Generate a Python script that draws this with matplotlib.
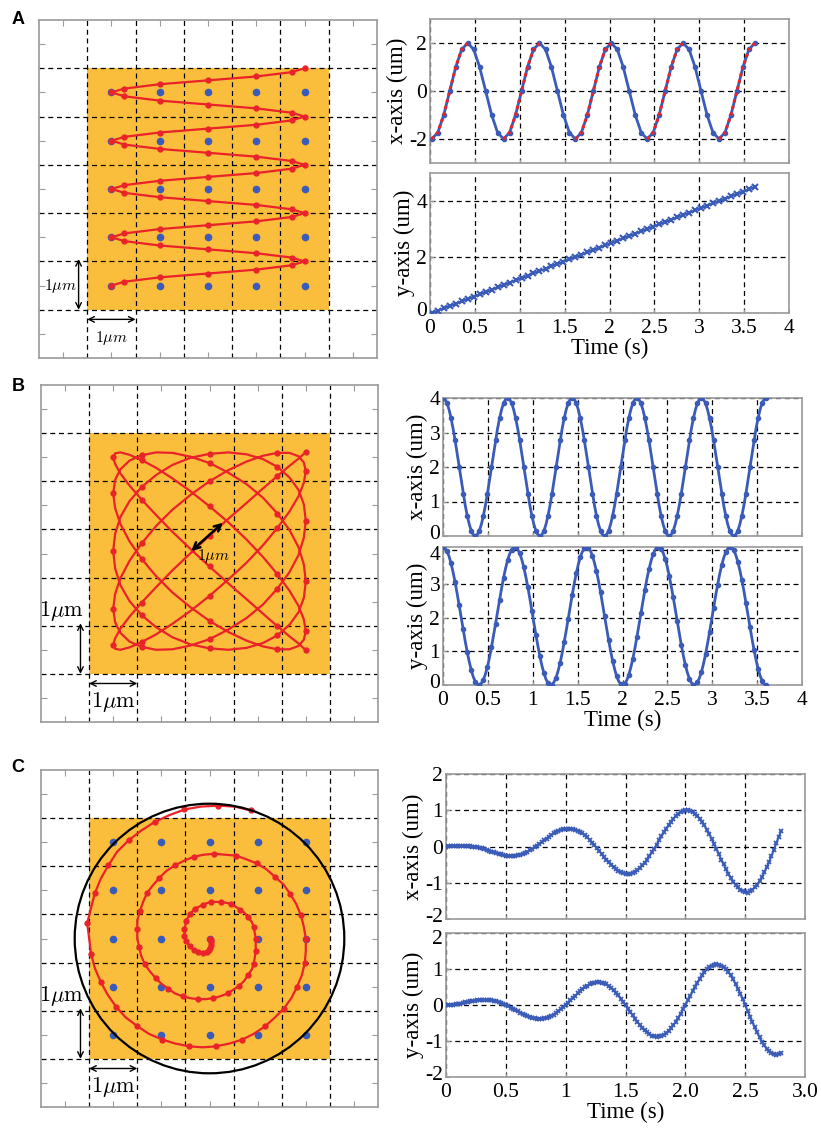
import numpy as np
import matplotlib.pyplot as plt
from matplotlib.patches import Rectangle, Circle
from matplotlib.transforms import ScaledTranslation

plt.rcParams['font.family'] = 'Liberation Serif'
plt.rcParams['mathtext.fontset'] = 'cm'

# ---------------- data ----------------
# A: raster scan (time in s, positions in um)
t_a = [0.020, 0.087, 0.153, 0.220, 0.287, 0.353, 0.420, 0.487, 0.553, 0.620,
       0.687, 0.753, 0.820, 0.887, 0.953, 1.020, 1.087, 1.153, 1.220, 1.287,
       1.353, 1.420, 1.487, 1.553, 1.620, 1.687, 1.753, 1.820, 1.887, 1.953,
       2.020, 2.087, 2.153, 2.220, 2.287, 2.353, 2.420, 2.487, 2.553, 2.620,
       2.687, 2.753, 2.820, 2.887, 2.953, 3.020, 3.087, 3.153, 3.220, 3.287,
       3.353, 3.420, 3.487, 3.553, 3.620]
x_a = [-2.0, -1.73, -1.0, 0.0, 1.0, 1.73, 2.0, 1.73, 1.0, 0.0, -1.0, -1.73,
       -2.0, -1.73, -1.0, 0.0, 1.0, 1.73, 2.0, 1.73, 1.0, 0.0, -1.0, -1.73,
       -2.0, -1.73, -1.0, 0.0, 1.0, 1.73, 2.0, 1.73, 1.0, 0.0, -1.0, -1.73,
       -2.0, -1.73, -1.0, 0.0, 1.0, 1.73, 2.0, 1.73, 1.0, 0.0, -1.0, -1.73,
       -2.0, -1.73, -1.0, 0.0, 1.0, 1.73, 2.0]
y_a = [0.00, 0.08, 0.17, 0.25, 0.33, 0.42, 0.50, 0.58, 0.67, 0.75, 0.83, 0.92,
       1.00, 1.08, 1.17, 1.25, 1.33, 1.42, 1.50, 1.58, 1.67, 1.75, 1.83, 1.92,
       2.00, 2.08, 2.17, 2.25, 2.33, 2.42, 2.50, 2.58, 2.67, 2.75, 2.83, 2.92,
       3.00, 3.08, 3.17, 3.25, 3.33, 3.42, 3.50, 3.58, 3.67, 3.75, 3.83, 3.92,
       4.00, 4.08, 4.17, 4.25, 4.33, 4.42, 4.50]

# B: Lissajous scan
t_b = [0.0000, 0.0225, 0.0450, 0.0675, 0.0900, 0.1125, 0.1350, 0.1575, 0.1800,
       0.2025, 0.2250, 0.2475, 0.2700, 0.2925, 0.3150, 0.3375, 0.3600, 0.3825,
       0.4050, 0.4275, 0.4500, 0.4725, 0.4950, 0.5175, 0.5400, 0.5625, 0.5850,
       0.6075, 0.6300, 0.6525, 0.6750, 0.6975, 0.7200, 0.7425, 0.7650, 0.7875,
       0.8100, 0.8325, 0.8550, 0.8775, 0.9000, 0.9225, 0.9450, 0.9675, 0.9900,
       1.0125, 1.0350, 1.0575, 1.0800, 1.1025, 1.1250, 1.1475, 1.1700, 1.1925,
       1.2150, 1.2375, 1.2600, 1.2825, 1.3050, 1.3275, 1.3500, 1.3725, 1.3950,
       1.4175, 1.4400, 1.4625, 1.4850, 1.5075, 1.5300, 1.5525, 1.5750, 1.5975,
       1.6200, 1.6425, 1.6650, 1.6875, 1.7100, 1.7325, 1.7550, 1.7775, 1.8000,
       1.8225, 1.8450, 1.8675, 1.8900, 1.9125, 1.9350, 1.9575, 1.9800, 2.0025,
       2.0250, 2.0475, 2.0700, 2.0925, 2.1150, 2.1375, 2.1600, 2.1825, 2.2050,
       2.2275, 2.2500, 2.2725, 2.2950, 2.3175, 2.3400, 2.3625, 2.3850, 2.4075,
       2.4300, 2.4525, 2.4750, 2.4975, 2.5200, 2.5425, 2.5650, 2.5875, 2.6100,
       2.6325, 2.6550, 2.6775, 2.7000, 2.7225, 2.7450, 2.7675, 2.7900, 2.8125,
       2.8350, 2.8575, 2.8800, 2.9025, 2.9250, 2.9475, 2.9700, 2.9925, 3.0150,
       3.0375, 3.0600, 3.0825, 3.1050, 3.1275, 3.1500, 3.1725, 3.1950, 3.2175,
       3.2400, 3.2625, 3.2850, 3.3075, 3.3300, 3.3525, 3.3750, 3.3975, 3.4200,
       3.4425, 3.4650, 3.4875, 3.5100, 3.5325, 3.5550, 3.5775, 3.6000]
x_b = [4.00, 3.96, 3.85, 3.66, 3.41, 3.11, 2.77, 2.39, 2.00, 1.61, 1.23, 0.89,
       0.59, 0.34, 0.15, 0.04, 0.00, 0.04, 0.15, 0.34, 0.59, 0.89, 1.23, 1.61,
       2.00, 2.39, 2.77, 3.11, 3.41, 3.66, 3.85, 3.96,
       4.00, 3.96, 3.85, 3.66, 3.41, 3.11, 2.77, 2.39, 2.00, 1.61, 1.23, 0.89,
       0.59, 0.34, 0.15, 0.04, 0.00, 0.04, 0.15, 0.34, 0.59, 0.89, 1.23, 1.61,
       2.00, 2.39, 2.77, 3.11, 3.41, 3.66, 3.85, 3.96,
       4.00, 3.96, 3.85, 3.66, 3.41, 3.11, 2.77, 2.39, 2.00, 1.61, 1.23, 0.89,
       0.59, 0.34, 0.15, 0.04, 0.00, 0.04, 0.15, 0.34, 0.59, 0.89, 1.23, 1.61,
       2.00, 2.39, 2.77, 3.11, 3.41, 3.66, 3.85, 3.96,
       4.00, 3.96, 3.85, 3.66, 3.41, 3.11, 2.77, 2.39, 2.00, 1.61, 1.23, 0.89,
       0.59, 0.34, 0.15, 0.04, 0.00, 0.04, 0.15, 0.34, 0.59, 0.89, 1.23, 1.61,
       2.00, 2.39, 2.77, 3.11, 3.41, 3.66, 3.85, 3.96,
       4.00, 3.96, 3.85, 3.66, 3.41, 3.11, 2.77, 2.39, 2.00, 1.61, 1.23, 0.89,
       0.59, 0.34, 0.15, 0.04, 0.00, 0.04, 0.15, 0.34, 0.59, 0.89, 1.23, 1.61,
       2.00, 2.39, 2.77, 3.11, 3.41, 3.66, 3.85, 3.96,
       4.00]
y_b = [4.10, 4.07, 3.97, 3.82, 3.61, 3.35, 3.05, 2.72, 2.37, 2.01, 1.65, 1.30,
       0.98, 0.69, 0.44, 0.24, 0.10, 0.02, 0.00, 0.05, 0.16, 0.32, 0.54, 0.81,
       1.12, 1.46, 1.81, 2.17, 2.53, 2.87, 3.19, 3.47, 3.71, 3.89, 4.02, 4.09,
       4.09, 4.03, 3.91, 3.73, 3.50, 3.22, 2.91, 2.57, 2.21, 1.85, 1.49, 1.16,
       0.85, 0.57, 0.35, 0.17, 0.06, 0.00, 0.01, 0.09, 0.22, 0.42, 0.66, 0.94,
       1.27, 1.61, 1.97, 2.33, 2.68, 3.02, 3.32, 3.58, 3.80, 3.96, 4.06, 4.10,
       4.07, 3.99, 3.84, 3.63, 3.38, 3.09, 2.76, 2.41, 2.05, 1.69, 1.34, 1.01,
       0.72, 0.47, 0.26, 0.11, 0.03, 0.00, 0.04, 0.14, 0.30, 0.52, 0.78, 1.08,
       1.42, 1.77, 2.13, 2.49, 2.83, 3.16, 3.44, 3.68, 3.88, 4.01, 4.09, 4.10,
       4.04, 3.93, 3.75, 3.53, 3.25, 2.94, 2.61, 2.25, 1.89, 1.53, 1.19, 0.88,
       0.60, 0.37, 0.19, 0.07, 0.01, 0.01, 0.08, 0.21, 0.39, 0.63, 0.91, 1.23,
       1.57, 1.93, 2.29, 2.65, 2.98, 3.29, 3.56, 3.78, 3.94, 4.05, 4.10, 4.08,
       4.00, 3.86, 3.66, 3.41, 3.12, 2.80, 2.45, 2.09, 1.73, 1.38, 1.05, 0.75,
       0.49, 0.28, 0.13, 0.03, 0.00]

# C: spiral scan
t_c = [0.00, 0.02, 0.04, 0.06, 0.08, 0.10, 0.12, 0.14, 0.16, 0.18, 0.20, 0.22,
       0.24, 0.26, 0.28, 0.30, 0.32, 0.34, 0.36, 0.38, 0.40, 0.42, 0.44, 0.46,
       0.48, 0.50, 0.52, 0.54, 0.56, 0.58, 0.60, 0.62, 0.64, 0.66, 0.68, 0.70,
       0.72, 0.74, 0.76, 0.78, 0.80, 0.82, 0.84, 0.86, 0.88, 0.90, 0.92, 0.94,
       0.96, 0.98, 1.00, 1.02, 1.04, 1.06, 1.08, 1.10, 1.12, 1.14, 1.16, 1.18,
       1.20, 1.22, 1.24, 1.26, 1.28, 1.30, 1.32, 1.34, 1.36, 1.38, 1.40, 1.42,
       1.44, 1.46, 1.48, 1.50, 1.52, 1.54, 1.56, 1.58, 1.60, 1.62, 1.64, 1.66,
       1.68, 1.70, 1.72, 1.74, 1.76, 1.78, 1.80, 1.82, 1.84, 1.86, 1.88, 1.90,
       1.92, 1.94, 1.96, 1.98, 2.00, 2.02, 2.04, 2.06, 2.08, 2.10, 2.12, 2.14,
       2.16, 2.18, 2.20, 2.22, 2.24, 2.26, 2.28, 2.30, 2.32, 2.34, 2.36, 2.38,
       2.40, 2.42, 2.44, 2.46, 2.48, 2.50, 2.52, 2.54, 2.56, 2.58, 2.60, 2.62,
       2.64, 2.66, 2.68, 2.70, 2.72, 2.74, 2.76, 2.78, 2.80]
x_c = [0.00, 0.01, 0.01, 0.02, 0.02, 0.02, 0.02, 0.02, 0.02, 0.02, 0.01, 0.00,
       -0.01, -0.02, -0.03, -0.05, -0.07, -0.09, -0.12, -0.14, -0.16, -0.18,
       -0.20, -0.22, -0.24, -0.25, -0.26, -0.26, -0.26, -0.25, -0.24, -0.23,
       -0.20, -0.18, -0.15, -0.11, -0.07, -0.02, 0.02, 0.07, 0.12, 0.18, 0.22,
       0.27, 0.32, 0.36, 0.40, 0.44, 0.46, 0.47, 0.48, 0.48, 0.48, 0.47, 0.46,
       0.44, 0.40, 0.36, 0.31, 0.25, 0.19, 0.11, 0.04, -0.04, -0.12, -0.20,
       -0.28, -0.36, -0.43, -0.50, -0.56, -0.62, -0.67, -0.71, -0.73, -0.75,
       -0.75, -0.75, -0.72, -0.69, -0.65, -0.59, -0.52, -0.45, -0.36, -0.26,
       -0.16, -0.06, 0.05, 0.17, 0.28, 0.39, 0.49, 0.59, 0.68, 0.77, 0.84,
       0.90, 0.95, 0.98, 1.00, 1.00, 0.99, 0.96, 0.91, 0.85, 0.77, 0.68, 0.58,
       0.46, 0.34, 0.21, 0.07, -0.07, -0.21, -0.36, -0.49, -0.63, -0.75, -0.87,
       -0.97, -1.06, -1.13, -1.19, -1.23, -1.25, -1.27, -1.23, -1.19, -1.13,
       -1.05, -0.96, -0.84, -0.71, -0.57, -0.42, -0.26, -0.09, 0.09, 0.26, 0.43]
y_c = [0.00, 0.00, 0.01, 0.01, 0.02, 0.03, 0.04, 0.05, 0.07, 0.08, 0.10, 0.11,
       0.12, 0.13, 0.14, 0.14, 0.15, 0.14, 0.14, 0.13, 0.12, 0.10, 0.08, 0.06,
       0.03, 0.00, -0.03, -0.07, -0.10, -0.14, -0.18, -0.21, -0.25, -0.28,
       -0.31, -0.33, -0.35, -0.37, -0.38, -0.38, -0.38, -0.37, -0.36, -0.33,
       -0.30, -0.27, -0.22, -0.17, -0.12, -0.06, 0.00, 0.06, 0.13, 0.20, 0.26,
       0.32, 0.38, 0.44, 0.49, 0.53, 0.57, 0.60, 0.62, 0.63, 0.63, 0.62, 0.60,
       0.57, 0.52, 0.47, 0.41, 0.34, 0.27, 0.18, 0.09, 0.00, -0.10, -0.19,
       -0.29, -0.38, -0.47, -0.55, -0.63, -0.70, -0.76, -0.81, -0.85, -0.87,
       -0.88, -0.87, -0.86, -0.82, -0.78, -0.72, -0.64, -0.56, -0.46, -0.36,
       -0.24, -0.12, 0.00, 0.13, 0.25, 0.38, 0.50, 0.62, 0.73, 0.82, 0.91,
       0.99, 1.05, 1.09, 1.12, 1.13, 1.12, 1.09, 1.05, 0.99, 0.91, 0.82, 0.71,
       0.58, 0.45, 0.31, 0.16, 0.00, -0.16, -0.32, -0.47, -0.62, -0.76, -0.90,
       -1.02, -1.12, -1.21, -1.28, -1.34, -1.37, -1.38, -1.37, -1.33]

dot_pos = [1.5, 2.5, 3.5, 4.5, 5.5]   # sample grid (blue dots)
circle_r = 2.8                         # spiral bounding circle

BLUE = '#3a5bb7'
RED = '#ea2229'
ORANGE = '#fbbe3c'
FRAME = '#9a9a9a'

W, H = 821, 1135
fig = plt.figure(figsize=(W / 100, H / 100), dpi=100)


def box(l, t, r, b):
    # axes placed by pixel edges
    return fig.add_axes([l / W, 1 - b / H, (r - l) / W, (b - t) / H])


def nudge(label, dy):
    label.set_transform(label.get_transform() + ScaledTranslation(0, dy / 100, fig.dpi_scale_trans))


def scan_field(ax, dots=True):
    ax.set_xlim(0, 7)
    ax.set_ylim(0, 7)
    ax.add_patch(Rectangle((1, 1), 5, 5, color=ORANGE, lw=0, zorder=0))
    for v in range(1, 7):
        ax.axvline(v, color='k', lw=0.9, ls=(0, (4, 3)), zorder=1)
        ax.axhline(v, color='k', lw=0.9, ls=(0, (4, 3)), zorder=1)
    ax.set_xticks(np.arange(0.5, 7, 1))
    ax.set_yticks(np.arange(0.5, 7, 1))
    ax.tick_params(direction='in', length=4, color=FRAME, top=True, right=True,
                   labelbottom=False, labelleft=False)
    for s in ax.spines.values():
        s.set_color(FRAME)
        s.set_linewidth(1.2)
    if dots:
        gx, gy = np.meshgrid(dot_pos, dot_pos)
        ax.plot(gx.ravel(), gy.ravel(), 'o', color=BLUE, ms=5.5, mec='none', zorder=2)


def dim(ax, p0, p1, lw=1.0, ms=10):
    ax.annotate('', xy=p1, xytext=p0, zorder=5,
                arrowprops=dict(arrowstyle='<->', lw=lw, color='k',
                                shrinkA=0, shrinkB=0, mutation_scale=ms))


def scale_bars(ax, italic, fs):
    lab = r'$1\mu m$' if italic else r'$1\mu\mathrm{m}$'
    dim(ax, (0.82, 1.0), (0.82, 2.05))
    dim(ax, (1.0, 0.8), (2.0, 0.8))
    if italic:
        ax.text(0.45, 1.5, lab, fontsize=fs, ha='center', va='center', zorder=6)
    else:
        ax.text(0.43, 2.3, lab, fontsize=fs, ha='center', va='center', zorder=6)
    ax.text(1.5, 0.42, lab, fontsize=fs, ha='center', va='center', zorder=6)


def trace_axes(ax, xlim, xt, xtl, ylim, yt, ylabel, show_x):
    ax.set_xlim(*xlim)
    ax.set_ylim(*ylim)
    ax.set_xticks(xt)
    ax.set_yticks(yt)
    ax.set_yticklabels([f'{v:g}' for v in yt])
    ax.grid(True, color='k', lw=0.9, ls=(0, (4, 3)))
    ax.tick_params(direction='in', length=3, color=FRAME, labelsize=15.5, pad=2)
    ax.tick_params(axis='x', pad=4)
    if show_x:
        ax.set_xticklabels(xtl)
        ax.set_xlabel('Time (s)', fontsize=16.5, labelpad=0)
    else:
        ax.set_xticklabels([])
    ax.set_ylabel(ylabel, fontsize=16.5, labelpad=1)
    for s in ax.spines.values():
        s.set_color(FRAME)
        s.set_linewidth(1.2)


# ---------------- A ----------------
axl = box(39, 20, 377, 358)
scan_field(axl)
axl.plot(np.array(x_a) + 3.5, np.array(y_a) + 1.5, '-o', color=RED, lw=1.6, ms=3.5, zorder=3)
scale_bars(axl, True, 11.5)

tk4 = [0, 0.5, 1, 1.5, 2, 2.5, 3, 3.5, 4]
tk4l = ['0', '0.5', '1', '1.5', '2', '2.5', '3', '3.5', '4']

ax = box(430, 19, 789, 163)
ax.plot(t_a, x_a, '-o', color=BLUE, lw=2, ms=3, zorder=3)
xa = np.array(x_a)
rise = np.zeros(len(xa), bool)
rise[1:] |= xa[1:] > xa[:-1]
rise[:-1] |= xa[1:] > xa[:-1]
ax.plot(t_a, np.where(rise, xa, np.nan), color=RED, lw=2.2, ls=(0, (1, 1.2)), zorder=4)
trace_axes(ax, (0, 4), tk4, tk4l, (-3, 3), [-2, 0, 2], 'x-axis (um)', False)

ax = box(430, 173, 789, 313)
ax.plot(t_a, y_a, '-x', color=BLUE, lw=1.5, ms=4, mew=1.5, zorder=3)
trace_axes(ax, (0, 4), tk4, tk4l, (0, 5), [0, 2, 4], 'y-axis (um)', True)
nudge(ax.get_yticklabels()[0], 4)

# ---------------- B ----------------
axl = box(41, 385, 378, 722)
scan_field(axl, dots=False)
axl.plot(np.array(x_b) + 1.5, np.array(y_b) + 1.5, '-', color=RED, lw=1.6, zorder=3)
axl.plot(np.array(x_b[::4]) + 1.5, np.array(y_b[::4]) + 1.5, 'o', color=RED, ms=3.5, zorder=3)
dim(axl, (3.12, 3.55), (3.78, 4.14), lw=1.8, ms=12)
axl.text(3.25, 3.45, r'$1\mu m$', fontsize=11.5, ha='left', va='center', zorder=6)
scale_bars(axl, False, 16)

ax = box(443, 398, 802, 536)
ax.plot(t_b, x_b, '-', color=BLUE, lw=2, zorder=3)
ax.plot(t_b[::2], x_b[::2], 'o', color=BLUE, ms=3, zorder=3)
trace_axes(ax, (0, 4), tk4, tk4l, (0, 4), [0, 1, 2, 3, 4], 'x-axis (um)', False)
nudge(ax.get_yticklabels()[0], 4)

ax = box(443, 547, 802, 685)
ax.plot(t_b, y_b, '-', color=BLUE, lw=2, zorder=3)
ax.plot(t_b[::2], y_b[::2], 'o', color=BLUE, ms=3, zorder=3)
trace_axes(ax, (0, 4), tk4, tk4l, (0, 4.1), [0, 1, 2, 3, 4], 'y-axis (um)', True)
nudge(ax.get_yticklabels()[-1], -3)
nudge(ax.get_yticklabels()[0], 4)

# ---------------- C ----------------
axl = box(41, 770, 378, 1107)
scan_field(axl)
axl.add_patch(Circle((3.5, 3.5), circle_r, fill=False, color='k', lw=1.6, zorder=4))
sx = 3.5 + 2 * np.array(x_c)
sy = 3.5 - 2 * np.array(y_c)
axl.plot(sx, sy, '-', color=RED, lw=1.6, zorder=3)
axl.plot(sx[::2], sy[::2], 'o', color=RED, ms=3.5, zorder=3)
scale_bars(axl, False, 16)

tk3 = [0, 0.5, 1, 1.5, 2, 2.5, 3]
tk3l = ['0', '0.5', '1', '1.5', '2.0', '2.5', '3.0']

ax = box(446, 774, 805, 919)
ax.plot(t_c, x_c, '-x', color=BLUE, lw=1.5, ms=3.5, mew=1.3, zorder=3)
trace_axes(ax, (0, 3), tk3, tk3l, (-2, 2), [-2, -1, 0, 1, 2], 'x-axis (um)', False)
nudge(ax.get_yticklabels()[0], 4)

ax = box(446, 933, 805, 1077)
ax.plot(t_c, y_c, '-x', color=BLUE, lw=1.5, ms=3.5, mew=1.3, zorder=3)
trace_axes(ax, (0, 3), tk3, tk3l, (-2, 2), [-2, -1, 0, 1, 2], 'y-axis (um)', True)
nudge(ax.get_yticklabels()[-1], -4)
nudge(ax.get_yticklabels()[0], 4)

# panel letters
for lab, y in [('A', 20), ('B', 386), ('C', 768)]:
    fig.text(18 / W, 1 - y / H, lab, fontsize=13, fontweight='bold',
             family='Liberation Sans', ha='center', va='center')

fig.savefig('out.png', dpi=100)
